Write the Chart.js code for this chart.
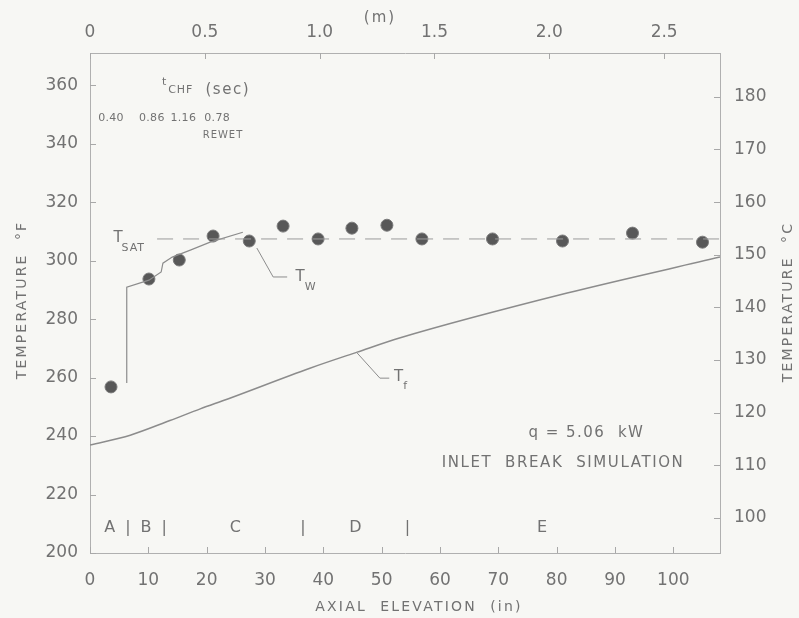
<!DOCTYPE html>
<html lang="en">
  <head>
    <meta charset="UTF-8" />
    <meta name="viewport" content="width=device-width, initial-scale=1.0" />
    <title>Inlet break simulation</title>
    <script src="https://cdn.jsdelivr.net/npm/chart.js"></script>
    <style>
      html, body { margin: 0; padding: 0; background: #f7f7f4; }
      #wrap { position: relative; width: 799px; height: 618px; }
    </style>
  </head>
  <body>
    <div id="wrap"><canvas id="tempChart"></canvas></div>

    <script>
      // measured wall temperature (thermocouples), elevation in inches, temp in degF
      const wallElev = [3.6, 10.1, 15.3, 21.1, 27.3, 33.1, 39.1, 44.9, 50.9, 56.9, 69.0, 81.0, 93.0, 105.0];
      const wallTemp = [256.8, 293.7, 300.2, 308.4, 306.7, 311.8, 307.4, 311.1, 312.1, 307.4, 307.4, 306.7, 309.4, 306.3];

      // T_w curve drawn through the lower part
      const twElev = [6.3, 6.3, 10.1, 12.2, 12.5, 14.1, 17.2, 20.6, 26.2];
      const twTemp = [258.1, 290.9, 293.3, 296.1, 299.1, 301.2, 303.6, 306.3, 309.7];

      // fluid temperature T_f
      const tfElev = [0, 6.9, 13.7, 18.9, 23.5, 37.7, 45.8, 53.2, 81.8, 108];
      const tfTemp = [236.9, 240.3, 245.3, 249.3, 252.6, 263.2, 268.7, 273.6, 288.9, 301.2];

      // saturation temperature
      const tsatElev = [11.5, 108];
      const tsatTemp = [307.4, 307.4];

      // tick labels
      const inchTicks = [0, 10, 20, 30, 40, 50, 60, 70, 80, 90, 100];
      const meterTicks = [0, 0.5, 1.0, 1.5, 2.0, 2.5];
      const degFTicks = [200, 220, 240, 260, 280, 300, 320, 340, 360];
      const degCTicks = [100, 110, 120, 130, 140, 150, 160, 170, 180];

      // text annotations
      const chfTimes = ["0.40", "0.86", "1.16", "0.78"];
      const chfElev = [3.6, 10.6, 16.0, 21.8];
      const regionNames = ["A", "|", "B", "|", "C", "|", "D", "|", "E"];
      const regionElev = [3.4, 6.5, 9.6, 12.7, 24.9, 36.5, 45.5, 54.4, 77.5];

      const X_MAX = 108;
      const F_MIN = 200;
      const F_MAX = 371;
      const toC = (f) => (f - 32) / 1.8;

      const pts = (xs, ys) => xs.map((x, i) => ({ x: x, y: ys[i] }));
      const setTicks = (arr) => (scale) => {
        scale.ticks = arr.map((v) => ({ value: v }));
      };

      const INK = "#727272";
      const LINE = "#8c8c8c";
      const FONT = "'DejaVu Sans', sans-serif";

      function spacedText(ctx, str, x, y, size, spacing, align) {
        ctx.save();
        ctx.font = size + "px " + FONT;
        ctx.letterSpacing = spacing + "px";
        ctx.textAlign = align || "center";
        ctx.textBaseline = "middle";
        ctx.fillStyle = INK;
        ctx.fillText(str, x, y);
        ctx.restore();
      }

      const paperPlugin = {
        id: "paper",
        afterDraw(chart) {
          const ctx = chart.ctx;
          const sx = chart.scales.x;
          const sy = chart.scales.y;
          const area = chart.chartArea;
          const X = (v) => sx.getPixelForValue(v);
          const Y = (v) => sy.getPixelForValue(v);

          // inward tick marks
          ctx.save();
          ctx.strokeStyle = "#a8a8a8";
          ctx.lineWidth = 1;
          ctx.beginPath();
          chart.scales.x.ticks.forEach((t) => {
            const p = Math.round(sx.getPixelForValue(t.value)) + 0.5;
            ctx.moveTo(p, area.bottom); ctx.lineTo(p, area.bottom - 6);
          });
          chart.scales.x2.ticks.forEach((t) => {
            const p = Math.round(chart.scales.x2.getPixelForValue(t.value)) + 0.5;
            ctx.moveTo(p, area.top); ctx.lineTo(p, area.top + 6);
          });
          chart.scales.y.ticks.forEach((t) => {
            const p = Math.round(sy.getPixelForValue(t.value)) + 0.5;
            ctx.moveTo(area.left, p); ctx.lineTo(area.left + 6, p);
          });
          chart.scales.y2.ticks.forEach((t) => {
            const p = Math.round(chart.scales.y2.getPixelForValue(t.value)) + 0.5;
            ctx.moveTo(area.right, p); ctx.lineTo(area.right - 6, p);
          });
          ctx.stroke();

          // leader lines for T_w and T_f
          ctx.strokeStyle = LINE;
          ctx.beginPath();
          ctx.moveTo(X(28.6), Y(304.3)); ctx.lineTo(X(31.4), Y(294.4)); ctx.lineTo(X(33.8), Y(294.4));
          ctx.moveTo(X(45.8), Y(268.4)); ctx.lineTo(X(49.7), Y(259.8)); ctx.lineTo(X(51.3), Y(259.8));
          ctx.stroke();
          ctx.restore();

          // axis titles
          ctx.save();
          ctx.translate(22, 300);
          ctx.rotate(-Math.PI / 2);
          spacedText(ctx, "TEMPERATURE  °F", 0, 0, 14, 2.2);
          ctx.restore();
          ctx.save();
          ctx.translate(788, 302);
          ctx.rotate(-Math.PI / 2);
          spacedText(ctx, "TEMPERATURE  °C", 0, 0, 14, 2.2);
          ctx.restore();
          spacedText(ctx, "AXIAL  ELEVATION  (in)", 419, 607, 14, 2.2);
          spacedText(ctx, "(m)", 380, 18, 15, 2);

          // curve labels with subscripts
          spacedText(ctx, "T", X(4.8), Y(307.7), 15, 0);
          spacedText(ctx, "SAT", X(5.4), Y(304.4), 11, 1, "left");
          spacedText(ctx, "T", X(36.0), Y(294.4), 15, 0);
          spacedText(ctx, "W", X(36.8), Y(291.0), 11, 0, "left");
          spacedText(ctx, "T", X(52.9), Y(260.3), 15, 0);
          spacedText(ctx, "f", X(53.7), Y(257.0), 11, 0, "left");

          // CHF times
          spacedText(ctx, "t", X(12.7), Y(361.2), 11, 0);
          spacedText(ctx, "CHF", X(13.4), Y(358.4), 11, 1, "left");
          spacedText(ctx, "(sec)", X(19.8), Y(358.4), 15, 1.5, "left");
          chfTimes.forEach((s, i) => spacedText(ctx, s, X(chfElev[i]), Y(348.7), 11, 0.3));
          spacedText(ctx, "REWET", X(22.8), Y(342.9), 10, 1);

          // region letters
          regionNames.forEach((s, i) => spacedText(ctx, s, X(regionElev[i]), Y(208.5), 16, 0));

          // run description
          spacedText(ctx, "q = 5.06  kW", X(85.1), Y(241.0), 15, 1.5);
          spacedText(ctx, "INLET  BREAK  SIMULATION", X(81.1), Y(230.8), 15, 1.6);
        },
      };

      const tickFont = { family: FONT, size: 17 };
      const axisBorder = { display: true, color: "#b0b0b0", width: 1 };

      const ctx = document.getElementById("tempChart").getContext("2d");
      const tempChart = new Chart(ctx, {
        type: "scatter",
        data: {
          datasets: [
            {
              label: "T_SAT",
              data: pts(tsatElev, tsatTemp),
              showLine: true,
              borderColor: "#9a9a9a",
              borderWidth: 1,
              borderDash: [16, 10],
              pointRadius: 0,
            },
            {
              label: "T_f",
              data: pts(tfElev, tfTemp),
              showLine: true,
              borderColor: LINE,
              borderWidth: 1.5,
              cubicInterpolationMode: "monotone",
              pointRadius: 0,
            },
            {
              label: "T_w",
              data: pts(twElev, twTemp),
              showLine: true,
              borderColor: LINE,
              borderWidth: 1.2,
              tension: 0,
              pointRadius: 0,
            },
            {
              label: "wall",
              data: pts(wallElev, wallTemp),
              showLine: false,
              pointRadius: 6,
              backgroundColor: "#585858",
              borderColor: "#7a7a7a",
              borderWidth: 1,
            },
          ],
        },
        options: {
          responsive: true,
          maintainAspectRatio: false,
          animation: false,
          layout: { padding: 0 },
          plugins: {
            legend: { display: false },
            tooltip: { enabled: false },
          },
          scales: {
            x: {
              type: "linear",
              position: "bottom",
              min: 0,
              max: X_MAX,
              afterBuildTicks: setTicks(inchTicks),
              afterFit: (s) => { s.height = 65; },
              grid: { display: false },
              border: axisBorder,
              ticks: { font: tickFont, color: INK, padding: 9, maxRotation: 0 },
            },
            x2: {
              type: "linear",
              position: "top",
              min: 0,
              max: X_MAX * 0.0254,
              afterBuildTicks: setTicks(meterTicks),
              afterFit: (s) => { s.height = 53; },
              grid: { display: false },
              border: axisBorder,
              ticks: {
                font: tickFont,
                color: INK,
                padding: 2,
                maxRotation: 0,
                callback: (v) => (v === 0 ? "0" : v.toFixed(1)),
              },
            },
            y: {
              type: "linear",
              position: "left",
              min: F_MIN,
              max: F_MAX,
              afterBuildTicks: setTicks(degFTicks),
              afterFit: (s) => { s.width = 90; },
              grid: { display: false },
              border: axisBorder,
              ticks: { font: tickFont, color: INK, padding: 4 },
            },
            y2: {
              type: "linear",
              position: "right",
              min: toC(F_MIN),
              max: toC(F_MAX),
              afterBuildTicks: setTicks(degCTicks),
              afterFit: (s) => { s.width = 79; },
              grid: { display: false },
              border: axisBorder,
              ticks: { font: tickFont, color: INK, padding: 6 },
            },
          },
        },
        plugins: [paperPlugin],
      });
    </script>
  </body>
</html>
